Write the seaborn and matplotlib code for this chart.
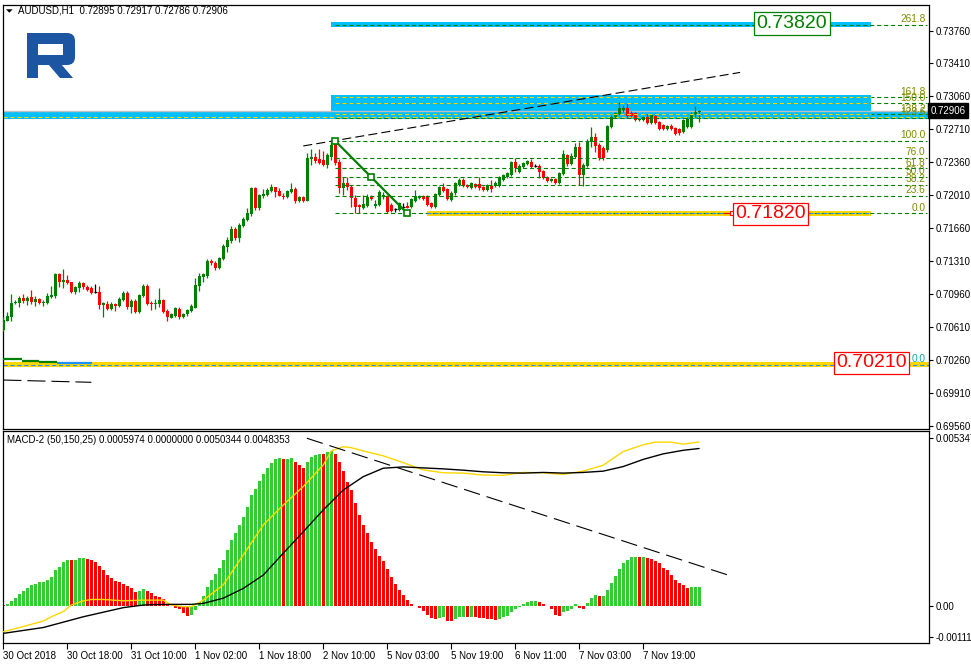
import numpy as np
import matplotlib
matplotlib.use('Agg')
import matplotlib.pyplot as plt
from matplotlib.patches import Rectangle, Polygon, FancyBboxPatch
import seaborn as sns

sns.set_style('white')
plt.rcParams['font.family'] = ['Liberation Sans', 'DejaVu Sans']
plt.rcParams['lines.scale_dashes'] = False

# ---- AUDUSD H1 candles ----
open_ = [0.70580, 0.70675, 0.70717, 0.70866, 0.70866, 0.70919, 0.70887, 0.70930, 0.70876, 0.70908,
         0.70866, 0.70866, 0.70930, 0.70940, 0.71174, 0.71089, 0.71110, 0.71089, 0.70983, 0.71025,
         0.71078, 0.71036, 0.71025, 0.70983, 0.70983, 0.70845, 0.70855, 0.70802, 0.70855, 0.70834,
         0.70898, 0.70972, 0.70824, 0.70887, 0.70770, 0.70940, 0.71047, 0.70866, 0.70855, 0.70855,
         0.70898, 0.70781, 0.70707, 0.70728, 0.70802, 0.70717, 0.70749, 0.70781, 0.70813, 0.71047,
         0.71142, 0.71153, 0.71312, 0.71291, 0.71238, 0.71333, 0.71461, 0.71525, 0.71652, 0.71556,
         0.71684, 0.71748, 0.71811, 0.72088, 0.71875, 0.72003, 0.72013, 0.72056, 0.72098, 0.72056,
         0.72003, 0.71992, 0.72045, 0.72077, 0.71950, 0.71992, 0.71950, 0.72395, 0.72417, 0.72395,
         0.72385, 0.72332, 0.72417, 0.72565, 0.72364, 0.72088, 0.72141, 0.72098, 0.71981, 0.71907,
         0.71875, 0.71896, 0.71992, 0.71896, 0.71907, 0.71992, 0.72003, 0.71907, 0.71865, 0.71854,
         0.71886, 0.71896, 0.71886, 0.71950, 0.71981, 0.72003, 0.71992, 0.71928, 0.71886, 0.72013,
         0.72098, 0.72077, 0.71960, 0.72034, 0.72119, 0.72172, 0.72119, 0.72088, 0.72130, 0.72130,
         0.72098, 0.72066, 0.72109, 0.72109, 0.72109, 0.72172, 0.72204, 0.72226, 0.72364, 0.72257,
         0.72311, 0.72342, 0.72364, 0.72321, 0.72321, 0.72268, 0.72204, 0.72162, 0.72183, 0.72141,
         0.72236, 0.72438, 0.72342, 0.72417, 0.72523, 0.72226, 0.72321, 0.72576, 0.72629, 0.72544,
         0.72512, 0.72491, 0.72735, 0.72841, 0.72873, 0.72916, 0.72937, 0.72884, 0.72884, 0.72810,
         0.72810, 0.72841, 0.72778, 0.72852, 0.72788, 0.72756, 0.72714, 0.72746, 0.72725, 0.72714,
         0.72682, 0.72735, 0.72735, 0.72873, 0.72895]
high_ = [0.70717, 0.70770, 0.70962, 0.70898, 0.70940, 0.70962, 0.70940, 0.71004, 0.70940, 0.70919,
         0.70898, 0.70972, 0.71047, 0.71185, 0.71185, 0.71227, 0.71164, 0.71089, 0.71047, 0.71100,
         0.71089, 0.71057, 0.71047, 0.71068, 0.71047, 0.70876, 0.70887, 0.70876, 0.70866, 0.70930,
         0.70993, 0.70993, 0.70908, 0.70908, 0.70962, 0.71068, 0.71068, 0.70887, 0.70908, 0.71025,
         0.70908, 0.70802, 0.70760, 0.70824, 0.70824, 0.70760, 0.70802, 0.70855, 0.71132, 0.71185,
         0.71185, 0.71333, 0.71333, 0.71312, 0.71355, 0.71493, 0.71567, 0.71684, 0.71673, 0.71716,
         0.71779, 0.71875, 0.72098, 0.72098, 0.72024, 0.72077, 0.72088, 0.72130, 0.72098, 0.72088,
         0.72034, 0.72066, 0.72141, 0.72098, 0.72003, 0.72003, 0.72459, 0.72502, 0.72459, 0.72502,
         0.72480, 0.72459, 0.72576, 0.72592, 0.72395, 0.72204, 0.72204, 0.72119, 0.72013, 0.71918,
         0.72013, 0.72024, 0.72013, 0.71960, 0.72066, 0.72045, 0.72013, 0.71928, 0.71875, 0.71939,
         0.71928, 0.71939, 0.71981, 0.72066, 0.72013, 0.72013, 0.72013, 0.71939, 0.72034, 0.72109,
         0.72141, 0.72088, 0.72056, 0.72151, 0.72194, 0.72194, 0.72130, 0.72151, 0.72141, 0.72204,
         0.72109, 0.72130, 0.72172, 0.72162, 0.72215, 0.72236, 0.72257, 0.72374, 0.72406, 0.72342,
         0.72364, 0.72385, 0.72395, 0.72342, 0.72342, 0.72279, 0.72215, 0.72194, 0.72194, 0.72257,
         0.72491, 0.72449, 0.72459, 0.72565, 0.72576, 0.72353, 0.72608, 0.72735, 0.72672, 0.72565,
         0.72534, 0.72756, 0.72863, 0.72895, 0.73001, 0.72969, 0.72990, 0.72905, 0.72895, 0.72831,
         0.72852, 0.72873, 0.72873, 0.72884, 0.72799, 0.72767, 0.72756, 0.72767, 0.72735, 0.72725,
         0.72820, 0.72841, 0.72895, 0.72958, 0.72917]
low_ = [0.70569, 0.70675, 0.70675, 0.70855, 0.70824, 0.70866, 0.70845, 0.70855, 0.70834, 0.70855,
        0.70834, 0.70855, 0.70919, 0.70919, 0.71036, 0.71025, 0.71068, 0.70972, 0.70962, 0.70983,
        0.71015, 0.70993, 0.70962, 0.70972, 0.70802, 0.70717, 0.70792, 0.70792, 0.70781, 0.70824,
        0.70887, 0.70802, 0.70760, 0.70760, 0.70760, 0.70930, 0.70845, 0.70792, 0.70802, 0.70824,
        0.70760, 0.70675, 0.70707, 0.70717, 0.70696, 0.70707, 0.70728, 0.70770, 0.70813, 0.70993,
        0.71089, 0.71132, 0.71270, 0.71217, 0.71227, 0.71323, 0.71408, 0.71503, 0.71535, 0.71514,
        0.71673, 0.71737, 0.71790, 0.71854, 0.71854, 0.71981, 0.72003, 0.72045, 0.71992, 0.72003,
        0.71971, 0.71981, 0.72034, 0.71928, 0.71939, 0.71939, 0.71950, 0.72332, 0.72353, 0.72342,
        0.72321, 0.72300, 0.72385, 0.72332, 0.72034, 0.72013, 0.72066, 0.71886, 0.71822, 0.71822,
        0.71865, 0.71886, 0.71960, 0.71875, 0.71896, 0.71971, 0.71822, 0.71833, 0.71833, 0.71843,
        0.71865, 0.71875, 0.71875, 0.71939, 0.71971, 0.71960, 0.71896, 0.71875, 0.71875, 0.72003,
        0.72045, 0.71960, 0.71950, 0.72013, 0.72109, 0.72098, 0.72088, 0.72077, 0.72088, 0.72066,
        0.72056, 0.72056, 0.72045, 0.72098, 0.72098, 0.72162, 0.72194, 0.72215, 0.72257, 0.72247,
        0.72300, 0.72332, 0.72300, 0.72311, 0.72194, 0.72183, 0.72151, 0.72151, 0.72130, 0.72130,
        0.72226, 0.72321, 0.72332, 0.72406, 0.72119, 0.72109, 0.72311, 0.72523, 0.72470, 0.72385,
        0.72385, 0.72470, 0.72725, 0.72831, 0.72863, 0.72895, 0.72831, 0.72841, 0.72799, 0.72799,
        0.72799, 0.72767, 0.72767, 0.72767, 0.72703, 0.72703, 0.72703, 0.72703, 0.72650, 0.72650,
        0.72672, 0.72725, 0.72725, 0.72841, 0.72786]
close_ = [0.70686, 0.70728, 0.70866, 0.70876, 0.70919, 0.70887, 0.70919, 0.70876, 0.70908, 0.70866,
          0.70876, 0.70940, 0.70951, 0.71174, 0.71089, 0.71110, 0.71078, 0.70983, 0.71036, 0.71078,
          0.71036, 0.71004, 0.70972, 0.70983, 0.70845, 0.70866, 0.70802, 0.70855, 0.70834, 0.70908,
          0.70972, 0.70824, 0.70887, 0.70770, 0.70951, 0.71047, 0.70855, 0.70855, 0.70866, 0.70898,
          0.70770, 0.70717, 0.70749, 0.70813, 0.70717, 0.70749, 0.70792, 0.70834, 0.71057, 0.71153,
          0.71174, 0.71312, 0.71291, 0.71238, 0.71344, 0.71471, 0.71535, 0.71652, 0.71556, 0.71695,
          0.71758, 0.71822, 0.72088, 0.71875, 0.72013, 0.72024, 0.72066, 0.72098, 0.72045, 0.72003,
          0.71992, 0.72056, 0.72077, 0.71950, 0.71992, 0.71950, 0.72406, 0.72417, 0.72374, 0.72353,
          0.72332, 0.72438, 0.72544, 0.72353, 0.72088, 0.72141, 0.72098, 0.71981, 0.71886, 0.71886,
          0.71918, 0.71992, 0.71971, 0.71918, 0.72045, 0.72013, 0.71833, 0.71843, 0.71865, 0.71928,
          0.71886, 0.71875, 0.71971, 0.72003, 0.72003, 0.71971, 0.71907, 0.71886, 0.72024, 0.72098,
          0.72056, 0.71971, 0.72034, 0.72141, 0.72172, 0.72109, 0.72098, 0.72141, 0.72098, 0.72088,
          0.72066, 0.72119, 0.72077, 0.72141, 0.72204, 0.72226, 0.72247, 0.72364, 0.72300, 0.72321,
          0.72353, 0.72374, 0.72311, 0.72321, 0.72257, 0.72194, 0.72162, 0.72183, 0.72141, 0.72247,
          0.72449, 0.72342, 0.72427, 0.72523, 0.72226, 0.72332, 0.72587, 0.72629, 0.72534, 0.72406,
          0.72406, 0.72746, 0.72841, 0.72884, 0.72937, 0.72937, 0.72852, 0.72852, 0.72810, 0.72820,
          0.72841, 0.72778, 0.72863, 0.72778, 0.72714, 0.72714, 0.72746, 0.72714, 0.72661, 0.72672,
          0.72810, 0.72820, 0.72863, 0.72895, 0.72906]

# ---- MACD-2 (50,150,25) ----
macd_hist = [0.00002, 0.00005, 0.00015, 0.00026, 0.00037, 0.00047, 0.00056, 0.00063, 0.00069, 0.00074,
             0.00075, 0.00080, 0.00088, 0.00109, 0.00120, 0.00135, 0.00141, 0.00140, 0.00142, 0.00147,
             0.00148, 0.00144, 0.00141, 0.00134, 0.00124, 0.00110, 0.00095, 0.00085, 0.00077, 0.00073,
             0.00067, 0.00060, 0.00055, 0.00044, 0.00047, 0.00052, 0.00047, 0.00039, 0.00032, 0.00029,
             0.00022, 0.00006, 0.00001, -0.00005, -0.00010, -0.00023, -0.00030, -0.00029, -0.00012, 0.00013,
             0.00032, 0.00059, 0.00080, 0.00097, 0.00116, 0.00141, 0.00172, 0.00203, 0.00223, 0.00249,
             0.00274, 0.00305, 0.00341, 0.00359, 0.00384, 0.00404, 0.00425, 0.00440, 0.00452, 0.00453,
             0.00451, 0.00452, 0.00453, 0.00441, 0.00433, 0.00423, 0.00441, 0.00456, 0.00464, 0.00467,
             0.00466, 0.00472, 0.00477, 0.00468, 0.00441, 0.00413, 0.00382, 0.00356, 0.00315, 0.00279,
             0.00248, 0.00223, 0.00197, 0.00174, 0.00154, 0.00138, 0.00113, 0.00088, 0.00068, 0.00050,
             0.00034, 0.00018, 0.00006, -0.00001, -0.00007, -0.00014, -0.00028, -0.00038, -0.00040, -0.00036,
             -0.00035, -0.00045, -0.00046, -0.00041, -0.00035, -0.00033, -0.00035, -0.00033, -0.00035, -0.00036,
             -0.00038, -0.00040, -0.00041, -0.00042, -0.00040, -0.00033, -0.00030, -0.00017, -0.00010, -0.00002,
             0.00005, 0.00011, 0.00015, 0.00016, 0.00011, 0.00006, -0.00001, -0.00010, -0.00028, -0.00031,
             -0.00017, -0.00016, -0.00009, 0.00005, -0.00007, -0.00008, 0.00008, 0.00024, 0.00034, 0.00031,
             0.00032, 0.00049, 0.00070, 0.00092, 0.00114, 0.00133, 0.00141, 0.00150, 0.00151, 0.00149,
             0.00150, 0.00146, 0.00143, 0.00138, 0.00131, 0.00116, 0.00109, 0.00095, 0.00080, 0.00072,
             0.00065, 0.00056, 0.00057, 0.00058, 0.0005974]
yellow_x = [0, 5, 10, 12, 15, 17, 20, 22, 25, 30, 35, 40, 42, 45, 47, 50, 55, 60, 65, 70, 75, 80,
            82, 85, 87, 90, 95, 100, 105, 110, 115, 120, 125, 130, 135, 140, 145, 150, 155, 160,
            163, 167, 170, 174]
yellow_y = [-0.00079, -0.00063, -0.00046, -0.00033, -0.00017, 0.00003, 0.00016, 0.00020, 0.00020,
            0.00016, 0.00018, 0.00018, 0.00003, -0.00002, -0.00002, 0.00018, 0.00065, 0.00157,
            0.00249, 0.00310, 0.00367, 0.00433, 0.00476, 0.00489, 0.00486, 0.00476, 0.00461,
            0.00440, 0.00418, 0.00409, 0.00408, 0.00402, 0.00401, 0.00410, 0.00409, 0.00404,
            0.00414, 0.00432, 0.00474, 0.00495, 0.00503, 0.00503, 0.00497, 0.0050344]
black_x = [0, 10, 20, 30, 35, 40, 47, 50, 55, 60, 65, 70, 75, 80, 85, 90, 95, 100, 105, 110, 115,
           120, 125, 130, 135, 140, 145, 150, 155, 160, 165, 170, 174]
black_y = [-0.00084, -0.00066, -0.00033, -0.00005, 0.00003, 0.00005, 0.00005, 0.00008, 0.00024,
           0.00054, 0.00095, 0.00162, 0.00228, 0.00295, 0.00356, 0.00397, 0.00423, 0.00427,
           0.00424, 0.00421, 0.00417, 0.00412, 0.00409, 0.00408, 0.00410, 0.00408, 0.00410,
           0.00414, 0.00428, 0.00450, 0.00467, 0.00478, 0.0048353]

# ---- axis labels ----
price_ticks = [0.73760, 0.73410, 0.73060, 0.72710, 0.72360, 0.72010, 0.71660, 0.71310,
               0.70960, 0.70610, 0.70260, 0.69910, 0.69560]
time_ticks = [0, 16, 32, 48, 64, 80, 96, 112, 128, 144, 160]
time_labels = ['30 Oct 2018', '30 Oct 18:00', '31 Oct 10:00', '1 Nov 02:00', '1 Nov 18:00',
               '2 Nov 10:00', '5 Nov 03:00', '5 Nov 19:00', '6 Nov 11:00', '7 Nov 03:00',
               '7 Nov 19:00']

# ---- fibonacci levels ----
fib_labels = ['261.8', '161.8', '150.0', '138.2', '123.6', '100.0', '76.0', '61.8', '50.0',
              '38.2', '23.6', '0.0']
fib_prices = [0.73819, 0.73051, 0.72987, 0.72870, 0.72836, 0.72587, 0.72409, 0.72297, 0.72202,
              0.72119, 0.72003, 0.71819]
last_price = 0.72906

GREEN = '#008000'
RED = '#ff0000'
BLUE = '#00bfff'
GOLD = '#ffd700'
DODGER = '#1e90ff'
FIBTXT = '#7d8c00'
LIME = '#32cd32'

W, H = 971, 664
fig = plt.figure(figsize=(W / 100, H / 100), dpi=100)


def px_rect(l, t, r, b):
    return [l / W, 1 - b / H, (r - l) / W, (b - t) / H]


ax1 = fig.add_axes(px_rect(3, 5, 929, 429))
ax2 = fig.add_axes(px_rect(3, 431, 929, 643))
XL = (-0.1, 231.5)

# ---------------- main price panel ----------------
o = np.array(open_)
c = np.array(close_)
hi = np.array(high_)
lo = np.array(low_)
bars = np.arange(len(c))
col = np.where(c > o, GREEN, np.where(c < o, RED, 'black'))
flat = c == o

# background objects
ax1.fill_between([82, 217], 0.73800, 0.73854, color=BLUE, lw=0, zorder=1)
ax1.fill_between([82, 217], 0.72898, 0.73075, color=BLUE, lw=0, zorder=1)
ax1.fill_between(list(XL), 0.72820, 0.72898, color=BLUE, lw=0, zorder=1)
ax1.hlines(0.72838, XL[0], XL[1], colors=GOLD, linestyles=(0, (3, 2)), lw=0.8, zorder=1.2)
ax1.fill_between(list(XL), 0.70190, 0.70243, color=GOLD, lw=0, zorder=1)
ax1.hlines(0.70210, XL[0], XL[1], colors=DODGER, linestyles=(0, (3, 2)), lw=0.8, zorder=1.2)
ax1.fill_between([106, 217], 0.71790, 0.71838, color=GOLD, lw=0, zorder=1)
ax1.axhline(last_price, color='#c0c0c0', lw=1.0, zorder=1.5)

# candles
ax1.vlines(bars, lo, hi, colors=col, lw=0.9, zorder=3)
ax1.bar(bars, c - o, bottom=o, width=0.78, color=col, lw=0, zorder=4)
ax1.hlines(o[flat], bars[flat] - 0.4, bars[flat] + 0.4, colors='black', lw=0.9, zorder=4)

# fibonacci tool
for lab, p in zip(fib_labels, fib_prices):
    ax1.hlines(p, 83, 231, colors=GREEN, linestyles=(0, (3, 2)), lw=0.8, zorder=5)
    ax1.text(230.6, p + 0.00008, lab, ha='right', va='bottom', fontsize=7.3, color=FIBTXT, zorder=6)
ax1.hlines(fib_prices[1:4], 83, 217, colors=GOLD, linestyles=(0, (3, 2)), lw=0.8, zorder=5.5)
ax1.hlines(0.71820, 106, 217, colors=DODGER, linestyles=(0, (3, 2)), lw=0.8, zorder=5.5)
ax1.plot([83, 101], [0.72587, 0.71819], color=GREEN, lw=1.6, zorder=6)
ax1.plot([83, 92, 101], [0.72587, 0.72207, 0.71819], 's', mfc='white', mec=GREEN,
         ms=4.5, mew=1.2, zorder=7)

# trend lines
ax1.plot([75, 184.25], [0.72534, 0.73315], color='black', lw=0.8,
         dashes=(6.5, 3), zorder=6)
ax1.plot([0, 22], [0.70048, 0.70024], color='black', lw=0.8, dashes=(13, 4.3), zorder=6)
step_x0 = [0, 4.75, 9, 13.5, 17.5]
step_x1 = [4.75, 9, 13.5, 17.5, 22.25]
step_p = [0.70268, 0.70253, 0.70243, 0.70232, 0.70226]
step_c = [GREEN, GREEN, GREEN, DODGER, DODGER]
for x0, x1, p, cc in zip(step_x0, step_x1, step_p, step_c):
    ax1.plot([x0, x1], [p, p], color=cc, lw=1.6, solid_capstyle='butt', zorder=6)

# price boxes
ax1.plot([180, 182.3], [0.71820, 0.71820], color=RED, lw=0.8, zorder=8)
ax1.plot([182.3], [0.71820], 's', mfc='white', mec=RED, ms=2.5, mew=0.8, zorder=8)
box_kw = dict(fontsize=14, ha='center', va='center', zorder=10)
ax1.text(191.9, 0.71813, '0.71820', color=RED,
         bbox=dict(boxstyle='square,pad=0.12', fc='white', ec=RED, lw=0.9), **box_kw)
ax1.text(217.1, 0.70232, '0.70210', color=RED,
         bbox=dict(boxstyle='square,pad=0.12', fc='white', ec=RED, lw=0.9), **box_kw)
ax1.text(197.25, 0.73834, '0.73820', color=GREEN,
         bbox=dict(boxstyle='square,pad=0.16', fc='white', ec=GREEN, lw=0.9), **box_kw)
ax1.text(230.6, 0.70210 + 0.00012, '0.0', ha='right', va='bottom', fontsize=7.3,
         color='#1aa3a3', zorder=6)

ax1.set_xlim(*XL)
ax1.set_ylim(0.69528, 0.74031)
ax1.set_xticks([])
ax1.yaxis.tick_right()
ax1.set_yticks(price_ticks)
ax1.set_yticklabels([f'{v:.5f}' for v in price_ticks])
ax1.tick_params(axis='y', right=True, left=False, length=3, width=0.8, pad=2,
                labelsize=7, colors='black')
ax1.text(1.0015, last_price, f'{last_price:.5f}', transform=ax1.get_yaxis_transform(),
         ha='left', va='center', fontsize=7, color='white', zorder=20, clip_on=False,
         bbox=dict(boxstyle='square,pad=0.25', fc='black', ec='black'))

# ---------------- MACD panel ----------------
hist = np.array(macd_hist)
hcol = [RED] + [LIME if hist[i] >= hist[i - 1] else RED for i in range(1, len(hist))]
ax2.bar(bars, hist, width=0.75, color=hcol, lw=0, zorder=2)
sns.lineplot(x=yellow_x, y=yellow_y, ax=ax2, color=GOLD, lw=1.0, zorder=3)
sns.lineplot(x=black_x, y=black_y, ax=ax2, color='black', lw=1.0, zorder=3)
ax2.plot([75.9, 181.75], [0.00515, 0.00093], color='black', lw=0.8, dashes=(12, 5), zorder=4)

ax2.set_xlim(*XL)
ax2.set_ylim(-0.0011359, 0.0053725)
ax2.yaxis.tick_right()
ax2.set_yticks([0.0051576, 0.0, -0.0009517])
ax2.set_yticklabels(['0.0053479', '0.00', '-0.0011171'])
ax2.tick_params(axis='y', right=True, left=False, length=3, width=0.8, pad=2,
                labelsize=7, colors='black')
ax2.set_xticks(time_ticks)
ax2.set_xticklabels(time_labels, ha='left')
ax2.tick_params(axis='x', bottom=True, length=4, width=0.8, pad=2, labelsize=7,
                colors='black')
ax2.set_xlabel('')
ax2.set_ylabel('')

for ax in (ax1, ax2):
    for s in ax.spines.values():
        s.set_color('black')
        s.set_linewidth(0.9)
    ax.set_facecolor('white')

# ---------------- overlay: header, logo ----------------
ov = fig.add_axes([0, 0, 1, 1], facecolor='none', zorder=30)
ov.set_xlim(0, W)
ov.set_ylim(H, 0)
ov.axis('off')
ov.add_patch(Polygon([(6, 9.3), (12.7, 9.3), (9.35, 12.7)], closed=True, fc='black', ec='none'))
ov.text(18, 10.5, 'AUDUSD,H1  0.72895 0.72917 0.72786 0.72906', fontsize=7, va='center',
        ha='left', color='black')
ov.text(7, 440, 'MACD-2 (50,150,25) 0.0005974 0.0000000 0.0050344 0.0048353', fontsize=7,
        va='center', ha='left', color='black')
LOGO = '#1c56a2'
ov.add_patch(Rectangle((27, 33), 30, 32, fc=LOGO, ec='none'))
ov.add_patch(FancyBboxPatch((45, 33), 30, 32, boxstyle='round,pad=0,rounding_size=8',
                            fc=LOGO, ec='none'))
ov.add_patch(Rectangle((38, 43.5), 25, 11.5, fc='white', ec='none'))
ov.add_patch(Rectangle((27, 64), 11, 14, fc=LOGO, ec='none'))
ov.add_patch(Polygon([(48, 64), (61, 64), (73, 78), (60, 78)], closed=True, fc=LOGO, ec='none'))

fig.savefig('out.png', dpi=100, facecolor='white')
